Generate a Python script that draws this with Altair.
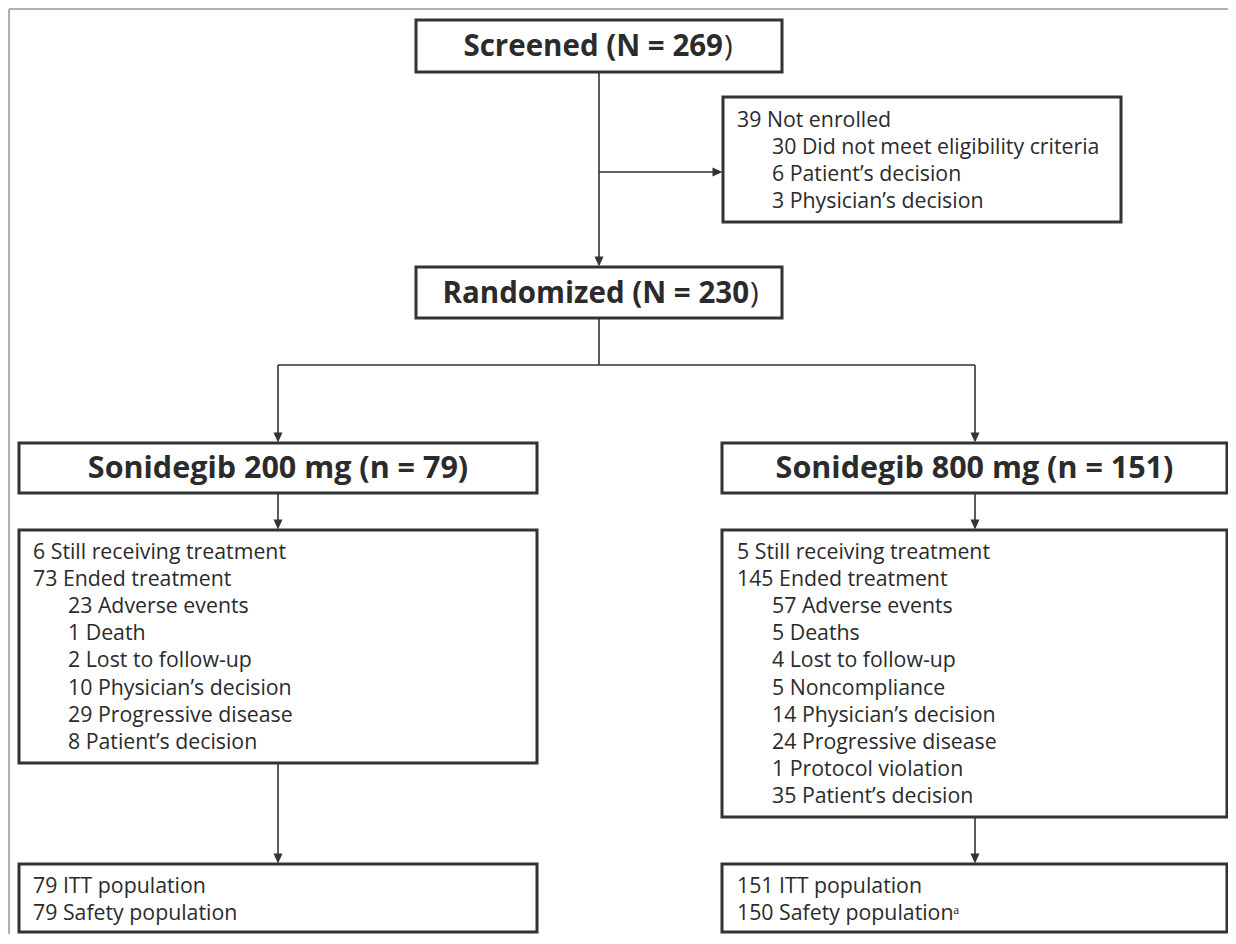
import altair as alt
import pandas as pd

# ------------------------------------------------------------------ data
screened_n = 269
randomized_n = 230

not_enrolled_counts = [39, 30, 6, 3]
not_enrolled_labels = ["Not enrolled", "Did not meet eligibility criteria",
                       "Patient’s decision", "Physician’s decision"]
not_enrolled_levels = [0, 1, 1, 1]

arm_names = ["Sonidegib 200 mg", "Sonidegib 800 mg"]
arm_n = [79, 151]

arm200_counts = [6, 73, 23, 1, 2, 10, 29, 8]
arm200_labels = ["Still receiving treatment", "Ended treatment", "Adverse events",
                 "Death", "Lost to follow-up", "Physician’s decision",
                 "Progressive disease", "Patient’s decision"]
arm200_levels = [0, 0, 1, 1, 1, 1, 1, 1]

arm800_counts = [5, 145, 57, 5, 4, 5, 14, 24, 1, 35]
arm800_labels = ["Still receiving treatment", "Ended treatment", "Adverse events",
                 "Deaths", "Lost to follow-up", "Noncompliance",
                 "Physician’s decision", "Progressive disease",
                 "Protocol violation", "Patient’s decision"]
arm800_levels = [0, 0, 1, 1, 1, 1, 1, 1, 1, 1]

itt_n = [79, 151]
safety_n = [79, 150]
safety_note = ["", "ᵃ"]

# ------------------------------------------------------------------ layout (page pixels)
W, H = 1220, 926
BOX = {
    "screened": (416, 782, 20, 72),
    "not_enrolled": (723, 1121, 97, 222),
    "randomized": (416, 782, 267, 318),
    "arm0": (19, 537, 443, 493),
    "arm1": (722, 1227, 443, 493),
    "tx0": (19, 537, 530, 763),
    "tx1": (722, 1227, 530, 817),
    "pop0": (19, 537, 864, 932),
    "pop1": (722, 1227, 864, 932),
}
CX = 599           # trunk x
COLX = [278, 975]  # arm column x
BRANCH_Y = 365
TEXT_COL = "#2b2b2b"
LINE_COL = "#333333"
FONT = "Open Sans"
FS = 21.3
FS_BOLD = 29.5
FS_ARM = 30.5

xs = alt.Scale(domain=[8, 8 + W], nice=False, zero=False)
ys = alt.Scale(domain=[8, 8 + H], nice=False, zero=False, reverse=True)

def X(f="x"):
    return alt.X(f"{f}:Q", scale=xs, axis=None)

def Y(f="y"):
    return alt.Y(f"{f}:Q", scale=ys, axis=None)

# ------------------------------------------------------------------ frame
frame = pd.DataFrame([
    {"x": 9, "y": 9, "x2": 8 + W, "y2": 9},
    {"x": 9, "y": 9, "x2": 9, "y2": 8 + H},
])
frame_layer = alt.Chart(frame).mark_rule(color="#b0b0b0", strokeWidth=2.2).encode(
    x=X(), y=Y(), x2="x2:Q", y2="y2:Q")

# ------------------------------------------------------------------ boxes
boxes = pd.DataFrame([{"k": k, "x": v[0], "x2": v[1], "y": v[2], "y2": v[3]}
                      for k, v in BOX.items()])
box_layer = alt.Chart(boxes).mark_rect(fill="white", stroke=LINE_COL, strokeWidth=3).encode(
    x=X(), x2="x2:Q", y=Y(), y2="y2:Q")

# ------------------------------------------------------------------ connectors
def bottom(k): return BOX[k][3]
def top(k): return BOX[k][2]

AH = 9  # arrow head length
segs = [
    (CX, bottom("screened"), CX, top("randomized") - AH),
    (CX, 172, BOX["not_enrolled"][0] - AH, 172),
    (CX, bottom("randomized"), CX, BRANCH_Y),
    (COLX[0], BRANCH_Y, COLX[1], BRANCH_Y),
]
for i, c in enumerate(COLX):
    segs += [
        (c, BRANCH_Y, c, top(f"arm{i}") - AH),
        (c, bottom(f"arm{i}"), c, top(f"tx{i}") - AH),
        (c, bottom(f"tx{i}"), c, top(f"pop{i}") - AH),
    ]
seg_df = pd.DataFrame(segs, columns=["x", "y", "x2", "y2"])
seg_layer = alt.Chart(seg_df).mark_rule(color=LINE_COL, strokeWidth=1.6).encode(
    x=X(), y=Y(), x2="x2:Q", y2="y2:Q")

down_heads = [(CX, top("randomized") - 1 - AH / 2)]
for i, c in enumerate(COLX):
    for k in ("arm", "tx", "pop"):
        down_heads.append((c, top(f"{k}{i}") - 1 - AH / 2))
down_df = pd.DataFrame(down_heads, columns=["x", "y"])
down_layer = alt.Chart(down_df).mark_point(
    shape="M-0.9,-1L0.9,-1L0,1Z", filled=True, size=100, color=LINE_COL, opacity=1
).encode(x=X(), y=Y())

right_df = pd.DataFrame([(BOX["not_enrolled"][0] - 1 - AH / 2, 172)], columns=["x", "y"])
right_layer = alt.Chart(right_df).mark_point(
    shape="M-1,-0.9L-1,0.9L1,0Z", filled=True, size=100, color=LINE_COL, opacity=1
).encode(x=X(), y=Y())

# ------------------------------------------------------------------ body text
def rows_for(box, counts, labels, levels, first=29, step=27.1, pad=14, indent=35, notes=None):
    x0, x1, y0, y1 = BOX[box]
    out = []
    for i, (c, l, lv) in enumerate(zip(counts, labels, levels)):
        txt = f"{c} {l}" + (notes[i] if notes else "")
        out.append({"x": x0 + pad + indent * lv, "y": y0 + first + step * i, "t": txt})
    return out

rows = []
rows += rows_for("not_enrolled", not_enrolled_counts, not_enrolled_labels, not_enrolled_levels, first=30)
rows += rows_for("tx0", arm200_counts, arm200_labels, arm200_levels)
rows += rows_for("tx1", arm800_counts, arm800_labels, arm800_levels, pad=15)
for i in range(2):
    rows += rows_for(f"pop{i}", [itt_n[i], safety_n[i]],
                     ["ITT population", "Safety population"], [0, 0],
                     pad=14 + i, notes=["", safety_note[i]])
text_df = pd.DataFrame(rows)
text_layer = alt.Chart(text_df).mark_text(
    align="left", baseline="alphabetic", font=FONT, fontSize=FS, color=TEXT_COL
).encode(x=X(), y=Y(), text="t:N")

# ------------------------------------------------------------------ bold titles
def mid(k):
    x0, x1, y0, y1 = BOX[k]
    return (x0 + x1) / 2, (y0 + y1) / 2

titles = []
for i in range(2):
    cx, cy = mid(f"arm{i}")
    titles.append({"x": cx, "y": cy + 10, "t": f"{arm_names[i]} (n = {arm_n[i]})"})
title_df = pd.DataFrame(titles)
title_layer = alt.Chart(title_df).mark_text(
    align="center", baseline="alphabetic", font=FONT, fontSize=FS_ARM, fontWeight="bold",
    color=TEXT_COL
).encode(x=X(), y=Y(), text="t:N")

# the top two titles end with a non-bold ")"
heads = []
for k, label, n, off in (("screened", "Screened", screened_n, 124),
                         ("randomized", "Randomized", randomized_n, 150)):
    cx, cy = mid(k)
    heads.append({"x": cx + off, "y": cy + 10, "t": f"{label} (N = {n}", "p": ")"})
head_df = pd.DataFrame(heads)
head_bold = alt.Chart(head_df).mark_text(
    align="right", baseline="alphabetic", font=FONT, fontSize=FS_BOLD, fontWeight="bold",
    color=TEXT_COL
).encode(x=X(), y=Y(), text="t:N")
head_paren = alt.Chart(head_df).mark_text(
    align="left", baseline="alphabetic", font=FONT, fontSize=FS_BOLD, color=TEXT_COL, dx=1
).encode(x=X(), y=Y(), text="p:N")

chart = alt.layer(
    frame_layer, seg_layer, down_layer, right_layer, box_layer,
    text_layer, title_layer, head_bold, head_paren
).properties(
    width=W, height=H, autosize=alt.AutoSizeParams(type="none"), padding=0
).configure_view(stroke=None)

chart.save("out.html", embed_options={"renderer": "svg", "actions": False})
